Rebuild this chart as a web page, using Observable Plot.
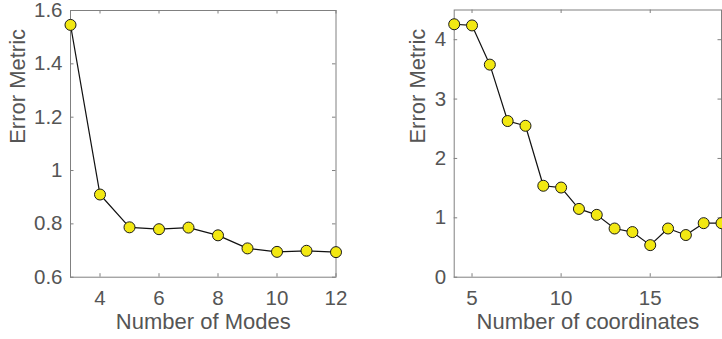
<!DOCTYPE html>
<html>
<head>
<meta charset="utf-8">
<script src="https://cdn.jsdelivr.net/npm/d3@7"></script>
<script src="https://cdn.jsdelivr.net/npm/@observablehq/plot@0.6"></script>
<style>
  html, body { margin: 0; padding: 0; background: #fff; }
  #fig { position: relative; width: 722px; height: 339px; overflow: hidden; }
  #fig svg { position: absolute; top: 0; overflow: visible; }
</style>
</head>
<body>
<div id="fig"></div>
<script>
// Error metric against the number of modes
const modes = [3, 4, 5, 6, 7, 8, 9, 10, 11, 12];
const modeError = [1.546, 0.910, 0.787, 0.780, 0.786, 0.757, 0.708, 0.695, 0.699, 0.694];
const modeTicks = [4, 6, 8, 10, 12];
const modeErrorTicks = [0.6, 0.8, 1, 1.2, 1.4, 1.6];

// Error metric against the number of coordinates
const coords = [4, 5, 6, 7, 8, 9, 10, 11, 12, 13, 14, 15, 16, 17, 18, 19];
const coordError = [4.26, 4.24, 3.58, 2.63, 2.55, 1.54, 1.51, 1.15, 1.05, 0.82, 0.76, 0.54, 0.82, 0.71, 0.91, 0.91];
const coordTicks = [5, 10, 15];
const coordErrorTicks = [0, 1, 2, 3, 4];

const FONT = "'Liberation Sans', Arial, Helvetica, sans-serif";
const AXIS_GRAY = "#808080";
const TEXT_GRAY = "#555555";
const TICK_LEN = 3.5;
const fmt = d3.format("");

function panel({xs, ys, xDomain, yDomain, xTicks, yTicks, xLabel, yLabel,
                width, height, margin, yLabelDx}) {
  const [mt, mr, mb, ml] = margin;
  const ph = height - mt - mb;
  const pw = width - ml - mr;
  const data = xs.map((x, i) => ({x, y: ys[i]}));
  return Plot.plot({
    width, height,
    marginTop: mt, marginRight: mr, marginBottom: mb, marginLeft: ml,
    style: {fontFamily: FONT, fontSize: "20px", color: TEXT_GRAY, background: "transparent"},
    x: {domain: xDomain},
    y: {domain: yDomain},
    marks: [
      Plot.frame({stroke: AXIS_GRAY, strokeWidth: 1}),
      // inward tick marks on all four sides of the box
      Plot.tickX(xTicks, {x: d => d, stroke: AXIS_GRAY, insetTop: ph - TICK_LEN}),
      Plot.tickX(xTicks, {x: d => d, stroke: AXIS_GRAY, insetBottom: ph - TICK_LEN}),
      Plot.tickY(yTicks, {y: d => d, stroke: AXIS_GRAY, insetRight: pw - TICK_LEN}),
      Plot.tickY(yTicks, {y: d => d, stroke: AXIS_GRAY, insetLeft: pw - TICK_LEN}),
      Plot.axisX(xTicks, {tickSize: 0, tickPadding: 13, tickFormat: fmt, fontSize: 20.5, fill: TEXT_GRAY, label: null}),
      Plot.axisY(yTicks, {tickSize: 0, tickPadding: 8, tickFormat: fmt, fontSize: 20.5, fill: TEXT_GRAY, label: null}),
      Plot.text([xLabel], {frameAnchor: "bottom", dy: 52, fontSize: 22, fill: TEXT_GRAY}),
      Plot.text([yLabel], {frameAnchor: "left", dx: yLabelDx, rotate: -90, fontSize: 22, fill: TEXT_GRAY}),
      Plot.line(data, {x: "x", y: "y", stroke: "#111", strokeWidth: 1.2}),
      Plot.dot(data, {x: "x", y: "y", r: 5.5, fill: "#f2e812", stroke: "#1a1a1a", strokeWidth: 1})
    ]
  });
}

const left = panel({
  xs: modes, ys: modeError,
  xDomain: [3, 12], yDomain: [0.6, 1.6],
  xTicks: modeTicks, yTicks: modeErrorTicks,
  xLabel: "Number of Modes", yLabel: "Error Metric",
  width: 361, height: 339, margin: [10, 25.5, 62.3, 70], yLabelDx: -53
});
left.style.left = "0px";

const right = panel({
  xs: coords, ys: coordError,
  xDomain: [4, 19], yDomain: [0, 4.5],
  xTicks: coordTicks, yTicks: coordErrorTicks,
  xLabel: "Number of coordinates", yLabel: "Error Metric",
  width: 361, height: 339, margin: [9.5, 1, 62.3, 92.7], yLabelDx: -36
});
right.style.left = "361px";

const fig = document.getElementById("fig");
fig.append(left, right);
</script>
</body>
</html>
